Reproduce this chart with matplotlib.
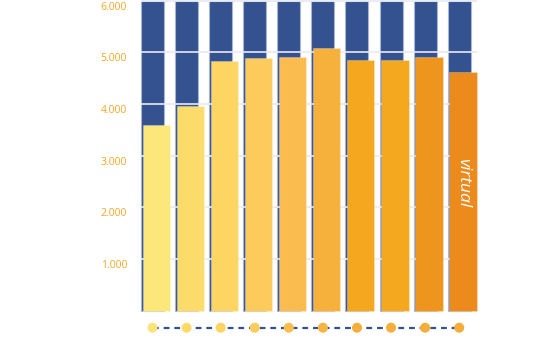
import matplotlib
matplotlib.use("Agg")
import matplotlib.pyplot as plt
import matplotlib.transforms as mtransforms

# ---- data ----
categories = list(range(10))
capacity = [6000] * 10
values = [3600, 3960, 4830, 4890, 4915, 5080, 4850, 4850, 4910, 4615]
bar_colors = ["#FCE77A", "#FBDC6A", "#FCD563", "#FCCB5B", "#FBBC4F",
              "#F6B03C", "#F4A71F", "#F4A81F", "#EE951E", "#EC8A1C"]
dot_colors = ["#FCE47A", "#FCDA68", "#FDD461", "#FCCB5B", "#FBBD4C",
              "#F8B342", "#F6AE3A", "#F6AE3A", "#F5AD3A", "#F5AD3A"]
yticks = [1000, 2000, 3000, 4000, 5000, 6000]
ytick_labels = ["1.000", "2.000", "3.000", "4.000", "5.000", "6.000"]
annotation = "virtual"

W, H, DPI = 555, 353, 100
fig = plt.figure(figsize=(W / DPI, H / DPI), dpi=DPI)

ax_left_px = 135
ax = fig.add_axes([ax_left_px / W, 0, 1 - ax_left_px / W, 1])

step = 34.08
x0px = 152.5
ax.set_xlim((ax_left_px - x0px) / step, (W - x0px) / step)
ppk = 51.63  # pixels per 1000
base_px = 310.5
ax.set_ylim(-(H - base_px) / ppk * 1000, base_px / ppk * 1000)

blue = "#33528F"
bw = 23 / step
yw = 27.5 / step
yl_off = 3.75 / step

ax.bar(categories, capacity, width=bw, color=blue,
       edgecolor="#a9b5d2", linewidth=0.8, zorder=2)

ax.hlines(yticks, categories[0] - bw / 2, categories[-1] + yl_off + yw / 2,
          color="#e6eaf3", linewidth=1.2, zorder=3)

ax.bar([c + yl_off for c in categories], values, width=yw,
       color=bar_colors, edgecolor=(1, 1, 1, 0.25), linewidth=0.8, zorder=4)

dot_y = -(327.7 - base_px) / ppk * 1000
ax.plot(categories, [dot_y] * len(categories), linestyle=(0, (2.6, 2.2)),
        color=blue, linewidth=1.6, zorder=5)
ax.scatter(categories, [dot_y] * len(categories), s=7.2 ** 2,
           color=dot_colors, zorder=6, linewidths=0)

ax.text(categories[-1] + yl_off, values[-1] * 0.535, annotation, rotation=-90,
        color="white", fontsize=12.5, style="italic", family="Open Sans",
        ha="center", va="center", zorder=7)

ax.set_yticks(yticks)
ax.set_yticklabels(ytick_labels, family="Open Sans", fontsize=7.5,
                   color="#F4A72A")
ax.tick_params(axis="y", length=0, pad=5.8)
ax.set_xticks([])
off = mtransforms.ScaledTranslation(0, -5 / DPI, fig.dpi_scale_trans)
for lab in ax.get_yticklabels():
    lab.set_transform(lab.get_transform() + off)
for s in ax.spines.values():
    s.set_visible(False)
ax.patch.set_alpha(0)

fig.savefig("out.png", dpi=DPI)
